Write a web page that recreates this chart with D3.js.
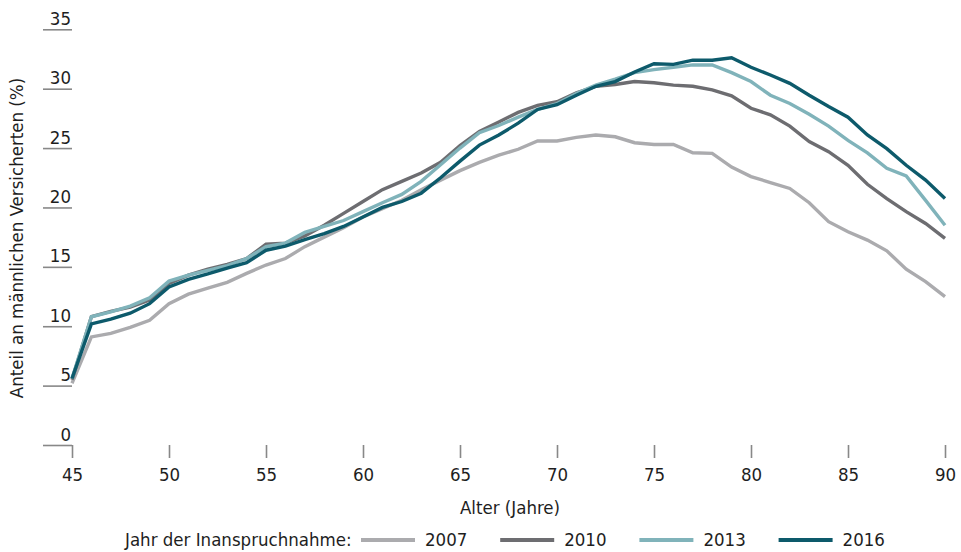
<!DOCTYPE html>
<html>
<head>
<meta charset="utf-8">
<script src="https://cdn.jsdelivr.net/npm/d3@7"></script>
<style>
  html, body { margin: 0; padding: 0; background: #fff; }
  svg text { font-family: "Liberation Sans Narrow", "DejaVu Sans Condensed", "DejaVu Sans", sans-serif; font-stretch: condensed; fill: #1e1e1e; }
</style>
</head>
<body>
<svg id="chart" width="961" height="552"></svg>
<script>
// ---- data ----
const ages = d3.range(45, 91);
const years = ["2007", "2010", "2013", "2016"];
const values2007 = [5.2, 9.1, 9.4, 9.9, 10.5, 11.9, 12.7, 13.2, 13.7, 14.45, 15.15, 15.7, 16.7, 17.5, 18.3,
  19.2, 19.9, 20.6, 21.5, 22.3, 23.1, 23.8, 24.4, 24.9, 25.6, 25.6, 25.9, 26.1, 25.95, 25.45,
  25.3, 25.3, 24.6, 24.55, 23.4, 22.6, 22.1, 21.6, 20.4, 18.8, 17.95, 17.25, 16.35, 14.8, 13.75, 12.5];
const values2010 = [5.5, 10.8, 11.25, 11.6, 12.2, 13.6, 14.3, 14.8, 15.2, 15.7, 16.9, 17.0, 17.6, 18.5, 19.5,
  20.5, 21.5, 22.2, 22.9, 23.8, 25.2, 26.4, 27.2, 28.0, 28.6, 28.9, 29.65, 30.2, 30.35, 30.6,
  30.5, 30.3, 30.2, 29.9, 29.4, 28.35, 27.8, 26.85, 25.55, 24.7, 23.55, 21.95, 20.75, 19.65, 18.65, 17.4];
const values2013 = [5.6, 10.8, 11.2, 11.7, 12.4, 13.8, 14.3, 14.7, 15.1, 15.7, 16.7, 17.0, 17.9, 18.4, 18.9,
  19.65, 20.4, 21.1, 22.2, 23.6, 25.0, 26.3, 26.9, 27.6, 28.25, 28.75, 29.6, 30.3, 30.8, 31.35,
  31.6, 31.8, 32.0, 32.0, 31.35, 30.6, 29.45, 28.75, 27.85, 26.85, 25.65, 24.6, 23.3, 22.65, 20.6, 18.5];
const values2016 = [5.6, 10.2, 10.6, 11.1, 11.9, 13.3, 13.95, 14.4, 14.9, 15.35, 16.4, 16.75, 17.3, 17.8, 18.4,
  19.2, 20.0, 20.5, 21.2, 22.5, 23.9, 25.25, 26.1, 27.1, 28.25, 28.65, 29.45, 30.2, 30.6, 31.4,
  32.1, 32.05, 32.4, 32.4, 32.6, 31.8, 31.15, 30.45, 29.45, 28.5, 27.6, 26.1, 24.95, 23.55, 22.3, 20.75];
const xTicks = [45, 50, 55, 60, 65, 70, 75, 80, 85, 90];
const yTicks = [0, 5, 10, 15, 20, 25, 30, 35];
const xTitle = "Alter (Jahre)";
const yTitle = "Anteil an männlichen Versicherten (%)";
const legendTitle = "Jahr der Inanspruchnahme:";

// ---- styles ----
const colors = { "2007": "#ababae", "2010": "#6d6d71", "2013": "#80b3ba", "2016": "#0d5a6b" };
const seriesValues = { "2007": values2007, "2010": values2010, "2013": values2013, "2016": values2016 };

const svg = d3.select("#chart");
const x = d3.scaleLinear().domain([45, 90]).range([72, 945]);
const y = d3.scaleLinear().domain([0, 35]).range([445, 29.3]);
const FS = 18.5;

// y axis: horizontal tick lines with labels above
const yAxis = svg.append("g")
  .attr("transform", "translate(72,0)")
  .call(d3.axisLeft(y).tickValues(yTicks).tickSize(29).tickFormat(d3.format("d")));
yAxis.select(".domain").remove();
yAxis.selectAll(".tick line").attr("stroke", "#888").attr("stroke-width", 1.6);
yAxis.selectAll(".tick text")
  .attr("x", -1).attr("dy", -5)
  .attr("font-size", FS).attr("text-anchor", "end")
  .attr("font-family", null);

// x axis
const xAxis = svg.append("g")
  .attr("transform", "translate(0,445)")
  .call(d3.axisBottom(x).tickValues(xTicks).tickSize(13).tickPadding(10).tickFormat(d3.format("d")));
xAxis.select(".domain").remove();
xAxis.selectAll(".tick line").attr("stroke", "#888").attr("stroke-width", 1.6);
xAxis.selectAll(".tick text").attr("font-size", FS).attr("font-family", null);

// titles
svg.append("text")
  .attr("x", 510).attr("y", 514)
  .attr("text-anchor", "middle").attr("font-size", FS)
  .text(xTitle);
svg.append("text")
  .attr("transform", "translate(23,238) rotate(-90)")
  .attr("text-anchor", "middle").attr("font-size", FS)
  .text(yTitle);

// lines
const line = d3.line().x((d, i) => x(ages[i])).y(d => y(d));
svg.append("g").selectAll("path")
  .data(years)
  .join("path")
  .attr("d", k => line(seriesValues[k]))
  .attr("fill", "none")
  .attr("stroke", k => colors[k])
  .attr("stroke-width", 3.4)
  .attr("stroke-linejoin", "miter");

// legend
const legend = svg.append("g");
legend.append("text")
  .attr("x", 125).attr("y", 546)
  .attr("font-size", FS)
  .text(legendTitle);
const items = legend.selectAll("g.item")
  .data(years)
  .join("g")
  .attr("class", "item")
  .attr("transform", (k, i) => `translate(${361 + i * 139.2},0)`);
items.append("line")
  .attr("x1", 0).attr("x2", 54)
  .attr("y1", 540).attr("y2", 540)
  .attr("stroke", k => colors[k])
  .attr("stroke-width", 4);
items.append("text")
  .attr("x", 64).attr("y", 546)
  .attr("font-size", FS)
  .text(k => k);
</script>
</body>
</html>
